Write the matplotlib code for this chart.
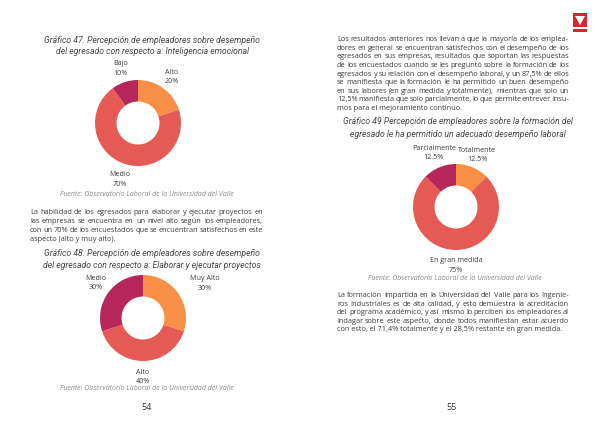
import numpy as np
import matplotlib
matplotlib.use("Agg")
import matplotlib.pyplot as plt
from matplotlib.patches import Rectangle, Polygon

# chart data
labels_47 = ["Alto", "Medio", "Bajo"]
values_47 = [20, 70, 10]
labels_48 = ["Muy Alto", "Alto", "Medio"]
values_48 = [30, 40, 30]
labels_49 = ["Totalmente", "En gran medida", "Parcialmente"]
values_49 = [12.5, 75, 12.5]

colors = ["#F88F46", "#E65A55", "#B5265A"]

title_47 = ["Gráfico 47. Percepción de empleadores sobre desempeño",
            "del egresado con respecto a: Inteligencia emocional"]
title_48 = ["Gráfico 48. Percepción de empleadores sobre desempeño",
            "del egresado con respecto a: Elaborar y ejecutar proyectos"]
title_49 = ["Gráfico 49 Percepción de empleadores sobre la formación del",
            "egresado le ha permitido un adecuado desempeño laboral"]
source = "Fuente: Observatorio Laboral de la Universidad del Valle"

para_left = [
    "La habilidad de los egresados para elaborar y ejecutar proyectos en",
    "las empresas se encuentra en un nivel alto según los empleadores,",
    "con un 70% de los encuestados que se encuentran satisfechos en este",
    "aspecto (alto y muy alto).",
]
para_right_1 = [
    "Los resultados anteriores nos llevan a que la mayoría de los emplea-",
    "dores en general se encuentran satisfechos con el desempeño de los",
    "egresados en sus empresas, resultados que soportan las respuestas",
    "de los encuestados cuando se les preguntó sobre la formación de los",
    "egresados y su relación con el desempeño laboral, y un 87,5% de ellos",
    "se manifiesta que la formación le ha permitido un buen desempeño",
    "en sus labores (en gran medida y totalmente), mientras que solo un",
    "12,5% manifiesta que solo parcialmente, lo que permite entrever insu-",
    "mos para el mejoramiento continuo.",
]
para_right_2 = [
    "La formación impartida en la Universidad del Valle para los Ingenie-",
    "ros Industriales es de alta calidad, y esto demuestra la acreditación",
    "del programa académico, y así mismo lo perciben los empleadores al",
    "indagar sobre este aspecto, donde todos manifiestan estar acuerdo",
    "con esto, el 71,4% totalmente y el 28,5% restante en gran medida.",
]

W, H = 600, 425
fig = plt.figure(figsize=(6, 4.25), dpi=100)
fig.patch.set_facecolor("white")
renderer = fig.canvas.get_renderer()

BODY = dict(family="Open Sans", fontsize=5.3, color="#3c3c3c")
TITLE = dict(family="Roboto", style="italic", fontsize=6.2, color="#484848")
SRC = dict(family="Open Sans", style="italic", fontsize=5.0, color="#8a8a8a")
LBL = dict(family="Open Sans", fontsize=5.1, color="#3c3c3c", linespacing=1.45)


def fx(x):
    return x / W


def fy(y):
    return 1 - y / H


def paragraph(lines, x0, x1, y0, step):
    """Draw justified lines between x0 and x1 (pixels); y0 is the first line centre."""
    for i, line in enumerate(lines):
        y = fy(y0 + i * step + 2.2)
        words = line.split(" ")
        if i == len(lines) - 1 or len(words) == 1:
            fig.text(fx(x0), y, line, va="baseline", ha="left", **BODY)
            continue
        texts = [fig.text(0, y, w, va="baseline", ha="left", **BODY) for w in words]
        widths = [t.get_window_extent(renderer).width for t in texts]
        gap = (x1 - x0 - sum(widths)) / (len(words) - 1)
        x = x0
        for t, w in zip(texts, widths):
            t.set_x(fx(x))
            x += w + gap


def title(lines, xc, y0, step):
    for i, line in enumerate(lines):
        fig.text(fx(xc), fy(y0 + i * step), line, ha="center", va="center", **TITLE)


def donut(values, labels, cx, cy, r, dists, shifts):
    ax = fig.add_axes([fx(cx - r), fy(cy + r), 2 * r / W, 2 * r / H])
    wedges, _ = ax.pie(values, colors=colors, startangle=90, counterclock=False,
                       radius=1, wedgeprops=dict(width=0.5, edgecolor="none"))
    ax.set_xlim(-1, 1)
    ax.set_ylim(-1, 1)
    ax.set_aspect("equal")
    ax.axis("off")
    for w, lab, v, d, s in zip(wedges, labels, values, dists, shifts):
        ang = np.deg2rad((w.theta1 + w.theta2) / 2 + s)
        pct = f"{v:g}%"
        ax.text(d * np.cos(ang), d * np.sin(ang), f"{lab}\n{pct}",
                ha="center", va="center", clip_on=False, **LBL)


# left page
title(title_47, 152, 40, 12)
donut(values_47, labels_47, 138, 123, 43, [1.33, 1.38, 1.33], [0, 0, 0])
fig.text(fx(147), fy(195), source, ha="center", va="center", **SRC)
paragraph(para_left, 30, 263, 212, 8.8)
title(title_48, 152, 253, 12)
donut(values_48, labels_48, 143, 318, 43, [1.65, 1.37, 1.37], [-7, 0, 0])
fig.text(fx(147), fy(389), source, ha="center", va="center", **SRC)
fig.text(fx(147), fy(408), "54", ha="center", va="center",
         family="Open Sans", fontsize=6.5, color="#333333")

# right page
paragraph(para_right_1, 337, 569, 39, 8.6)
title(title_49, 458, 122, 12)
donut(values_49, labels_49, 456, 207, 43, [1.3, 1.36, 1.35], [0, 0, 0])
fig.text(fx(455), fy(279), source, ha="center", va="center", **SRC)
paragraph(para_right_2, 337, 569, 295, 8.45)
fig.text(fx(452), fy(408), "55", ha="center", va="center",
         family="Open Sans", fontsize=6.5, color="#333333")

# small logo, top right
fig.patches.append(Rectangle((fx(573), fy(27)), 14 / W, 14 / H,
                             transform=fig.transFigure, facecolor="#D7262E",
                             edgecolor="none"))
fig.patches.append(Polygon([(fx(575), fy(16)), (fx(585), fy(16)), (fx(580), fy(25))],
                           closed=True, transform=fig.transFigure,
                           facecolor="white", edgecolor="none"))
fig.patches.append(Rectangle((fx(573), fy(32)), 14 / W, 3 / H,
                             transform=fig.transFigure, facecolor="#D7262E",
                             edgecolor="none"))

fig.savefig("out.png", dpi=100, facecolor="white")
